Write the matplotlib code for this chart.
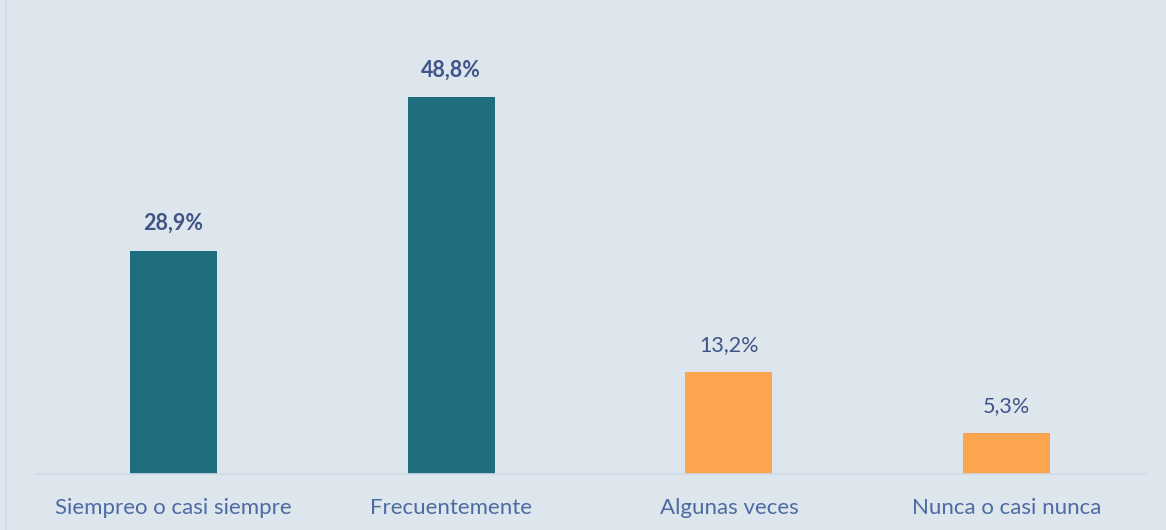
import matplotlib

matplotlib.use("Agg")
import matplotlib.pyplot as plt  # noqa: E402
from matplotlib.lines import Line2D  # noqa: E402

categories = ["Siempreo o casi siempre", "Frecuentemente", "Algunas veces", "Nunca o casi nunca"]
values = [28.9, 48.8, 13.2, 5.3]
value_labels = ["28,9%", "48,8%", "13,2%", "5,3%"]
bold_labels = [True, True, False, False]

BG = "#dce6ec"
TEAL = "#1f6e80"
ORANGE = "#fba550"
bar_colors = [TEAL, TEAL, ORANGE, ORANGE]
TICK_COLOR = "#4d6aa3"
VALUE_COLOR = "#3f5588"

plt.rcParams["font.family"] = ["Lato", "DejaVu Sans"]

fig = plt.figure(figsize=(11.66, 5.30), dpi=100, facecolor=BG)
ax = fig.add_axes([34.6 / 1166, 56 / 530, (1145.5 - 34.6) / 1166, 474 / 530])
ax.set_facecolor(BG)

x = range(len(categories))
ax.bar(x, values, width=0.313, color=bar_colors)
ax.set_xlim(-0.5, len(categories) - 0.5)
ax.set_ylim(0, 61.36)

for xi, v, lab, b in zip(x, values, value_labels, bold_labels):
    ax.annotate(lab, (xi, v), xytext=(0, 12), textcoords="offset points",
                ha="center", va="bottom", fontsize=15.5, color=VALUE_COLOR,
                fontweight="bold" if b else "normal")

ax.set_xticks(list(x))
ax.set_xticklabels(categories, fontsize=16, color=TICK_COLOR)
ax.tick_params(axis="x", length=0, pad=17)
ax.set_yticks([])
for side in ("top", "right", "left"):
    ax.spines[side].set_visible(False)
ax.spines["bottom"].set_color("#cfdbe7")
ax.spines["bottom"].set_linewidth(1.2)

# borde izquierdo del gráfico
fig.add_artist(Line2D([5.5 / 1166, 5.5 / 1166], [0, 1], transform=fig.transFigure,
                      color="#d3dbeb", linewidth=1.5))

fig.savefig("out.png", dpi=100, facecolor=BG)
